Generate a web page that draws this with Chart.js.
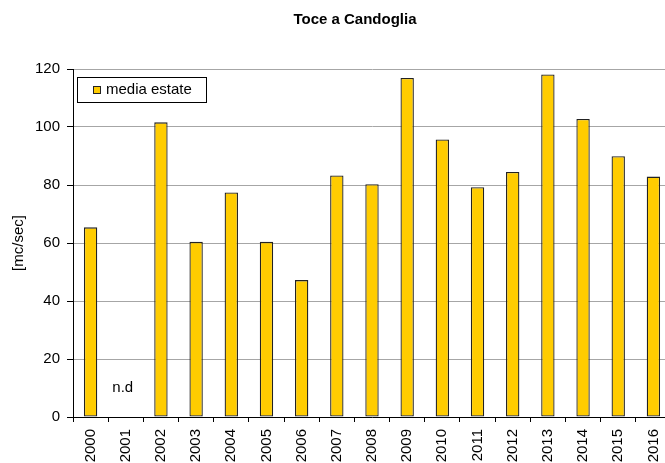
<!DOCTYPE html>
<html>
<head>
<meta charset="utf-8">
<title>Toce a Candoglia</title>
<script src="https://cdn.jsdelivr.net/npm/chart.js@4.4.0/dist/chart.umd.min.js"></script>
<style>
  body { margin: 0; overflow: hidden; background: #fff; }
  #wrap { width: 680px; height: 463px; }
</style>
</head>
<body>
<div id="wrap"><canvas id="toce_canvas" width="680" height="463"></canvas></div>
<script>

var year_labels = ['2000','2001','2002','2003','2004','2005','2006','2007','2008',
                   '2009','2010','2011','2012','2013','2014','2015','2016'];
var summer_mean = [65.4, null, 101.6, 60.4, 77.4, 60.4, 47.2, 83.3, 80.3,
                   116.9, 95.7, 79.2, 84.5, 118.1, 102.8, 89.9, 82.9];
var series_label = 'media estate';
var y_ticks = [0, 20, 40, 60, 80, 100, 120];
var chart_title = 'Toce a Candoglia';
var y_title = '[mc/sec]';
var missing_label = 'n.d';

var font_family = '"Liberation Sans", Arial, sans-serif';

// title, boxed legend and the "n.d" note for the missing year
var extras_plugin =
{
  id: 'extras',
  afterDraw: function(chart)
  {
    var ctx = chart.ctx;
    var x_scale = chart.scales.x;
    var y_scale = chart.scales.y;

    ctx.save();
    ctx.fillStyle = '#000';
    ctx.textBaseline = 'middle';

    ctx.font = 'bold 15px ' + font_family;
    ctx.textAlign = 'center';
    ctx.fillText(chart_title, 355, 20);

    // legend box
    ctx.strokeStyle = '#000';
    ctx.lineWidth = 1;
    ctx.strokeRect(77.5, 77.5, 129, 25);
    ctx.fillStyle = '#FFCC00';
    ctx.fillRect(93, 86, 8, 8);
    ctx.strokeStyle = '#222';
    ctx.strokeRect(93.5, 86.5, 7, 7);
    ctx.fillStyle = '#000';
    ctx.font = '15px ' + font_family;
    ctx.textAlign = 'left';
    ctx.fillText(series_label, 106, 90);

    // missing value note
    for (var i = 0; i < summer_mean.length; i++)
    {
      if (summer_mean[i] === null)
      {
        ctx.textAlign = 'center';
        ctx.fillText(missing_label, x_scale.getPixelForValue(i) - 3, y_scale.getPixelForValue(10));
      }
    }
    ctx.restore();
  }
};

var canvas = document.getElementById('toce_canvas').getContext('2d');

new Chart(canvas,
{
  type: 'bar',
  data: {
    labels: year_labels,
    datasets: [
      {
        label: series_label,
        data: summer_mean,
        backgroundColor: '#FFCC00',
        borderColor: '#222',
        borderWidth: 1.3,
        borderSkipped: false,
        barPercentage: 0.38,
        categoryPercentage: 1
      }]
  },
  options: {
    responsive: false,
    animation: false,
    layout: { padding: { top: 69, right: 9, left: 0, bottom: 0 } },
    plugins: {
      legend: { display: false },
      title: { display: false },
      tooltip: { enabled: false }
    },
    scales: {
      x: {
        offset: true,
        grid: {
          offset: true,
          drawOnChartArea: false,
          drawTicks: true,
          tickLength: 5,
          tickColor: '#000'
        },
        border: { color: '#000', width: 1 },
        ticks: {
          minRotation: 90,
          maxRotation: 90,
          padding: 7,
          color: '#000',
          font: { family: font_family, size: 15 }
        },
        afterFit: function(scale) { scale.height = 46; }
      },
      y: {
        min: 0,
        max: 120,
        afterBuildTicks: function(scale)
        {
          scale.ticks = y_ticks.map(function(v) { return { value: v }; });
        },
        grid: {
          color: '#a6a6a6',
          lineWidth: 1,
          drawTicks: true,
          tickLength: 6,
          tickColor: '#000'
        },
        border: { color: '#000', width: 1 },
        ticks: {
          padding: 7,
          color: '#000',
          font: { family: font_family, size: 15 }
        },
        title: {
          display: true,
          text: y_title,
          color: '#000',
          padding: { top: 10, bottom: 0 },
          font: { family: font_family, size: 15 }
        },
        afterFit: function(scale) { scale.width = 73; }
      }
    }
  },
  plugins: [extras_plugin]
});

</script>
</body>
</html>
